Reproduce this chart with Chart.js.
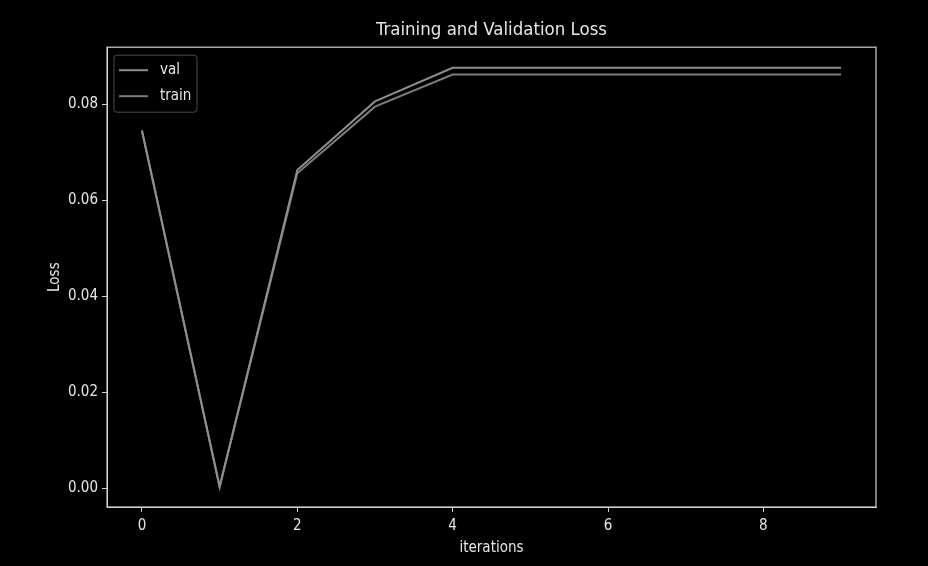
<!DOCTYPE html>
<html>
<head>
<meta charset="utf-8">
<script src="https://cdn.jsdelivr.net/npm/chart.js@4"></script>
<style>
  html, body { margin: 0; padding: 0; background: #000; }
  #wrap { width: 928px; height: 566px; }
</style>
</head>
<body>
<div id="wrap"><canvas id="c" width="928" height="566"></canvas></div>
<script>
const chartTitle = 'Training and Validation Loss';
const xTitle = 'iterations';
const yTitle = 'Loss';
const iterations = [0, 1, 2, 3, 4, 5, 6, 7, 8, 9];
const valLoss   = [0.0746, 0.0003, 0.0663, 0.0806, 0.0876, 0.0876, 0.0876, 0.0876, 0.0876, 0.0876];
const trainLoss = [0.0744, 0.0002, 0.0656, 0.0795, 0.0862, 0.0862, 0.0862, 0.0862, 0.0862, 0.0862];
const seriesNames = ['val', 'train'];
const seriesColors = ['#8e8e8e', '#7c7c7c'];

const FONT = '"DejaVu Sans Condensed", "DejaVu Sans", sans-serif';
const TEXT = '#e6e6e6';

const toPoints = arr => arr.map((v, i) => ({ x: iterations[i], y: v }));

const framePlugin = {
  id: 'frame',
  afterDraw(chart) {
    const { ctx, chartArea: a } = chart;
    ctx.save();
    ctx.strokeStyle = '#d0d0d0';
    ctx.lineWidth = 1.2;
    ctx.strokeRect(a.left, a.top, a.right - a.left, a.bottom - a.top);
    // legend
    const lx = a.left + 7, ly = a.top + 8, lw = 83, lh = 57;
    ctx.strokeStyle = '#4a4a4a';
    ctx.lineWidth = 1;
    ctx.fillStyle = '#000';
    ctx.beginPath();
    if (ctx.roundRect) ctx.roundRect(lx, ly, lw, lh, 3); else ctx.rect(lx, ly, lw, lh);
    ctx.fill();
    ctx.stroke();
    ctx.font = '15px ' + FONT;
    ctx.textBaseline = 'middle';
    chart.data.datasets.forEach((ds, i) => {
      const y = ly + 15 + i * 26;
      ctx.strokeStyle = ds.borderColor;
      ctx.lineWidth = 2;
      ctx.beginPath();
      ctx.moveTo(lx + 5, y);
      ctx.lineTo(lx + 34, y);
      ctx.stroke();
      ctx.fillStyle = TEXT;
      ctx.fillText(ds.label, lx + 46, y);
    });
    ctx.restore();
  }
};

new Chart(document.getElementById('c'), {
  type: 'line',
  data: {
    datasets: [
      { label: seriesNames[0], data: toPoints(valLoss), borderColor: seriesColors[0], borderWidth: 2, pointRadius: 0, tension: 0, fill: false },
      { label: seriesNames[1], data: toPoints(trainLoss), borderColor: seriesColors[1], borderWidth: 2, pointRadius: 0, tension: 0, fill: false }
    ]
  },
  options: {
    responsive: false,
    animation: false,
    devicePixelRatio: 1,
    layout: { padding: { left: 0, right: 52, top: 0, bottom: 0 } },
    plugins: {
      legend: { display: false },
      tooltip: { enabled: false },
      title: {
        display: true,
        fullSize: false,
        text: chartTitle,
        color: TEXT,
        font: { family: FONT, size: 18.5, weight: 'normal' },
        padding: { top: 19, bottom: 6 }
      }
    },
    scales: {
      x: {
        type: 'linear',
        min: -0.45,
        max: 9.45,
        afterFit(s) { s.height = 59; },
        ticks: {
          stepSize: 2,
          includeBounds: false,
          color: TEXT,
          padding: 5,
          font: { family: FONT, size: 15 },
          callback: v => String(v)
        },
        grid: { display: true, drawOnChartArea: false, drawTicks: true, tickLength: 5, color: '#d0d0d0', tickColor: '#d0d0d0' },
        border: { display: true, color: '#d0d0d0' },
        title: { display: true, text: xTitle, color: TEXT, font: { family: FONT, size: 15 }, padding: { top: 0, bottom: 9 } }
      },
      y: {
        type: 'linear',
        min: -0.00396,
        max: 0.0919,
        afterFit(s) { s.width = 107; },
        ticks: {
          stepSize: 0.02,
          includeBounds: false,
          color: TEXT,
          padding: 4,
          font: { family: FONT, size: 15 },
          callback: v => Number(v).toFixed(2)
        },
        grid: { display: true, drawOnChartArea: false, drawTicks: true, tickLength: 5, color: '#d0d0d0', tickColor: '#d0d0d0' },
        border: { display: true, color: '#d0d0d0' },
        title: { display: true, text: yTitle, color: TEXT, font: { family: FONT, size: 15 }, padding: { top: 46, bottom: 0 } }
      }
    }
  },
  plugins: [framePlugin]
});
</script>
</body>
</html>
